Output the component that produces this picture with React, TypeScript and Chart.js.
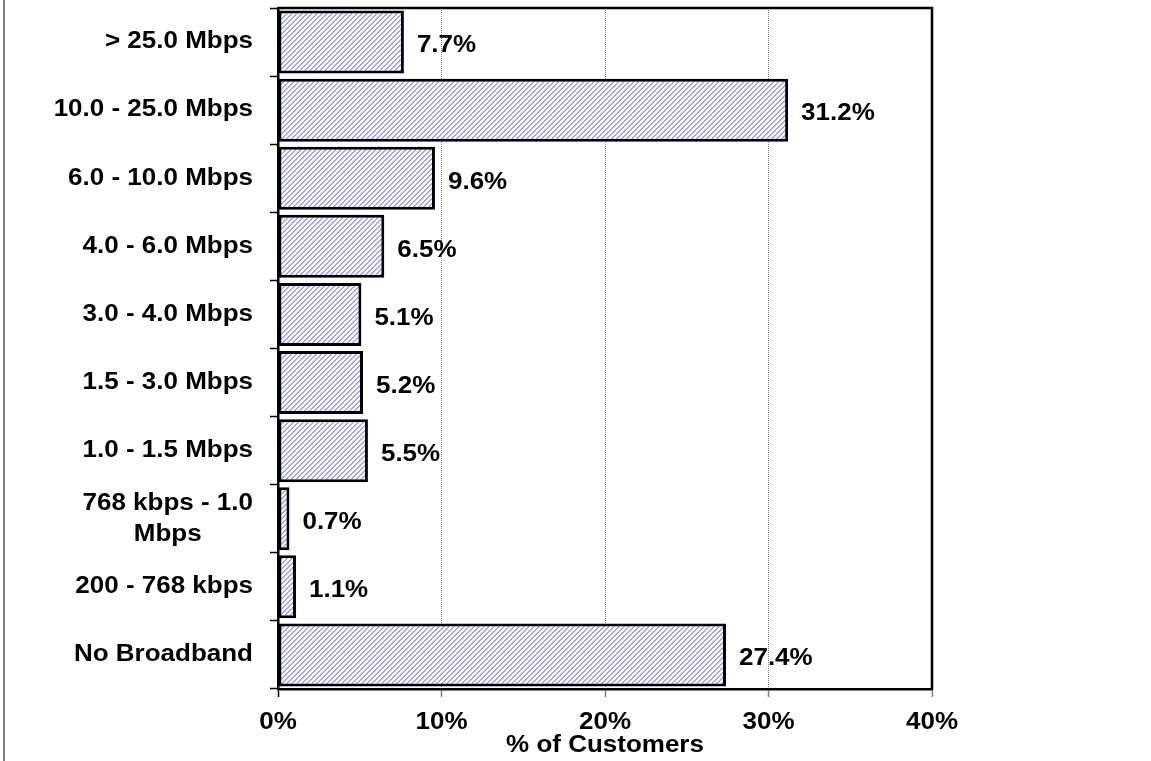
import React, { useEffect, useRef } from "react";
import { Chart, registerables } from "chart.js";

Chart.register(...registerables);

const categories: (string | string[])[] = [
  "> 25.0 Mbps",
  "10.0 - 25.0 Mbps",
  "6.0 - 10.0 Mbps",
  "4.0 - 6.0 Mbps",
  "3.0 - 4.0 Mbps",
  "1.5 - 3.0 Mbps",
  "1.0 - 1.5 Mbps",
  ["768 kbps - 1.0", "Mbps"],
  "200 - 768 kbps",
  "No Broadband",
];

const customerShare: number[] = [7.7, 31.2, 9.6, 6.5, 5.1, 5.2, 5.5, 0.7, 1.1, 27.4];

const xTickValues: number[] = [0, 10, 20, 30, 40];
const axisTitle = "% of Customers";

const FONT = 'bold 23px "Liberation Sans", Arial, sans-serif';
const STRETCH = 1.13;

function drawText(
  ctx: CanvasRenderingContext2D,
  text: string,
  x: number,
  y: number,
  align: CanvasTextAlign
) {
  ctx.save();
  ctx.translate(x, y);
  ctx.scale(STRETCH, 1);
  ctx.font = FONT;
  ctx.fillStyle = "#000";
  ctx.textAlign = align;
  ctx.textBaseline = "middle";
  ctx.fillText(text, 0, 0);
  ctx.restore();
}

function makeHatch(): CanvasPattern | string {
  const size = 5;
  const c = document.createElement("canvas");
  c.width = size;
  c.height = size;
  const g = c.getContext("2d");
  if (!g) return "#9999ff";
  g.fillStyle = "#ffffff";
  g.fillRect(0, 0, size, size);
  g.fillStyle = "#a3a3ff";
  for (let y = 0; y < size; y++) {
    const x1 = (size - 1 - y + size) % size;
    const x2 = (size - y + size) % size;
    g.fillRect(x1, y, 1, 1);
    g.fillRect(x2, y, 1, 1);
  }
  const p = g.createPattern(c, "repeat");
  return p || "#9999ff";
}

const textPlugin = {
  id: "customText",
  beforeDraw(chart: any) {
    const ctx = chart.ctx as CanvasRenderingContext2D;
    ctx.save();
    ctx.fillStyle = "#ffffff";
    ctx.fillRect(0, 0, chart.width, chart.height);
    ctx.fillStyle = "#808080";
    ctx.fillRect(3, 0, 2, chart.height);
    ctx.restore();
  },
  afterDraw(chart: any) {
    const ctx = chart.ctx as CanvasRenderingContext2D;
    const area = chart.chartArea;
    const xs = chart.scales.x;
    const ys = chart.scales.y;

    // top & right frame
    ctx.save();
    ctx.strokeStyle = "#000";
    ctx.lineWidth = 2.5;
    ctx.beginPath();
    ctx.moveTo(area.left, area.top);
    ctx.lineTo(area.right, area.top);
    ctx.lineTo(area.right, area.bottom);
    ctx.stroke();
    ctx.restore();

    // category labels
    categories.forEach((lab, i) => {
      const y = ys.getPixelForValue(i);
      const rightX = area.left - 25;
      if (Array.isArray(lab)) {
        ctx.save();
        ctx.font = FONT;
        const w = Math.max(...lab.map((l) => ctx.measureText(l).width)) * STRETCH;
        ctx.restore();
        const cx = rightX - w / 2;
        const lh = 31;
        const y0 = y - ((lab.length - 1) * lh) / 2;
        lab.forEach((l, j) => drawText(ctx, l, cx, y0 + j * lh, "center"));
      } else {
        drawText(ctx, lab, rightX, y, "right");
      }
    });

    // x tick labels
    xTickValues.forEach((v) => {
      drawText(ctx, v + "%", xs.getPixelForValue(v), area.bottom + 34, "center");
    });

    // axis title
    drawText(ctx, axisTitle, (area.left + area.right) / 2, area.bottom + 57, "center");

    // data labels
    const meta = chart.getDatasetMeta(0);
    meta.data.forEach((el: any, i: number) => {
      drawText(ctx, customerShare[i].toFixed(1) + "%", el.x + 13, el.y + 4, "left");
    });
  },
};

export default function App() {
  const ref = useRef<HTMLCanvasElement | null>(null);

  useEffect(() => {
    if (!ref.current) return;
    const hatch = makeHatch();
    const chart = new Chart(ref.current, {
      type: "bar",
      data: {
        labels: categories as any,
        datasets: [
          {
            data: customerShare,
            backgroundColor: hatch as any,
            borderColor: "#000",
            borderWidth: 3,
            borderSkipped: false,
            categoryPercentage: 1,
            barPercentage: 0.925,
          },
        ],
      },
      options: {
        indexAxis: "y",
        responsive: false,
        animation: false,
        devicePixelRatio: 1,
        layout: { padding: { left: 0, right: 219, top: 8, bottom: 0 } },
        plugins: {
          legend: { display: false },
          tooltip: { enabled: false },
          title: { display: false },
        },
        scales: {
          x: {
            type: "linear",
            min: 0,
            max: 40,
            ticks: { display: false, stepSize: 10 },
            grid: {
              display: true,
              drawOnChartArea: true,
              drawTicks: true,
              tickLength: 8,
              color: (c: any) =>
                c.index === 0 || c.index === 4 ? "rgba(0,0,0,0)" : "#808080",
              tickColor: (c: any) => (c.index === 0 ? "#000" : "#808080"),
              lineWidth: 1,
              tickWidth: 1.5,
            },
            border: { display: true, color: "#000", width: 2.5, dash: [1, 1] },
            afterFit: (s: any) => {
              s.height = 72;
            },
          },
          y: {
            type: "category",
            ticks: { display: false },
            grid: {
              display: true,
              drawOnChartArea: false,
              drawTicks: true,
              tickLength: 8,
              offset: true,
              tickColor: "#000",
              tickWidth: 1.5,
            },
            border: { display: true, color: "#000", width: 2.5 },
            afterFit: (s: any) => {
              s.width = 278;
            },
          },
        },
      },
      plugins: [textPlugin],
    });
    return () => chart.destroy();
  }, []);

  return (
    <div style={{ position: "fixed", left: 0, top: 0, width: 1151, height: 761, background: "#fff" }}>
      <canvas ref={ref} width={1151} height={761} style={{ display: "block" }} />
    </div>
  );
}
